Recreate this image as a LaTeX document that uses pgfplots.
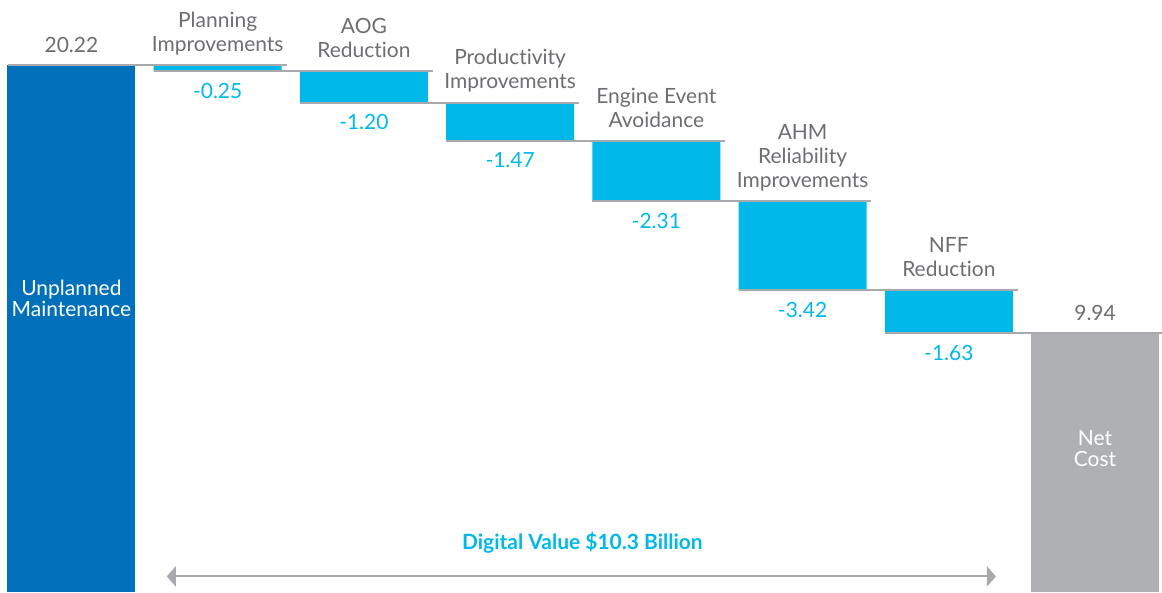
\documentclass[border=0pt]{standalone}
\usepackage{fontspec}
\setmainfont{Lato}[Ligatures=NoCommon]
\usepackage{pgfplots}
\pgfplotsset{compat=1.18}
\usetikzlibrary{arrows.meta}
\definecolor{cblue}{HTML}{0070BA}
\definecolor{ccyan}{HTML}{00B9E8}
\definecolor{cgray}{HTML}{AEB0B3}
\definecolor{tgray}{HTML}{6D6E71}
\definecolor{lgray}{HTML}{A7A9AC}
\begin{document}
\begin{tikzpicture}
\pgfplotsset{
  wf/.style={x=73.2pt, y=13.05pt, xmin=-0.4884, xmax=7.4577, ymin=0, ymax=22.71,
    hide axis, clip=false},
}
\tikzset{
  cat/.style={font=\fontsize{10.5}{12}\selectfont, text=tgray, align=center,
    anchor=south, inner sep=0pt, text depth=0pt, yshift=6.75pt},
  val/.style={font=\fontsize{10.5}{12}\selectfont, text=ccyan, anchor=north,
    inner sep=0pt, yshift=-5.75pt},
  tot/.style={font=\fontsize{10.5}{12}\selectfont, text=tgray, anchor=base,
    inner sep=0pt, yshift=6.25pt},
  inbar/.style={font=\fontsize{10.5}{10.5}\selectfont, text=white, align=center},
}
% bars
\begin{axis}[wf, ybar stacked, bar width=64pt]
\addplot[fill=none, draw=none] coordinates {(0,0) (1,19.97) (2,18.77) (3,17.30) (4,14.99) (5,11.57) (6,9.94) (7,0)};
\addplot[fill=cblue, draw=none] coordinates {(0,20.22) (1,0) (2,0) (3,0) (4,0) (5,0) (6,0) (7,0)};
\addplot[fill=ccyan, draw=none] coordinates {(0,0) (1,0.25) (2,1.20) (3,1.47) (4,2.31) (5,3.42) (6,1.63) (7,0)};
\addplot[fill=cgray, draw=none] coordinates {(0,0) (1,0) (2,0) (3,0) (4,0) (5,0) (6,0) (7,9.94)};
\coordinate (bl) at (rel axis cs:0,0);
\coordinate (tr) at (rel axis cs:1,1);
\end{axis}
% connectors, arrow and labels
\begin{axis}[wf]
\addplot[lgray, line width=1pt, mark=none, unbounded coords=jump] coordinates {
  (-0.437,20.22) (1.471,20.22) (1,nan)
  (0.563,19.97) (2.471,19.97) (2,nan)
  (1.563,18.77) (3.471,18.77) (3,nan)
  (2.563,17.30) (4.471,17.30) (4,nan)
  (3.563,14.99) (5.471,14.99) (5,nan)
  (4.563,11.57) (6.471,11.57) (6,nan)
  (5.563,9.94) (7.458,9.94)
};
\addplot[lgray, line width=1pt, mark=none,
  {Triangle[length=4.5pt,width=10pt]}-{Triangle[length=4.5pt,width=10pt]}]
  coordinates {(0.652,0.60) (6.322,0.60)};

\node[tot] at (axis cs:0,20.22) {20.22};
\node[tot] at (axis cs:7,9.94) {9.94};

\node[cat] at (axis cs:1,20.22) {Planning\\Improvements};
\node[cat] at (axis cs:2,19.97) {AOG\\Reduction};
\node[cat] at (axis cs:3,18.77) {Productivity\\Improvements};
\node[cat] at (axis cs:4,17.30) {Engine Event\\Avoidance};
\node[cat] at (axis cs:5,14.99) {AHM\\Reliability\\Improvements};
\node[cat] at (axis cs:6,11.57) {NFF\\Reduction};

\node[val] at (axis cs:1,19.97) {-0.25};
\node[val] at (axis cs:2,18.77) {-1.20};
\node[val] at (axis cs:3,17.30) {-1.47};
\node[val] at (axis cs:4,14.99) {-2.31};
\node[val] at (axis cs:5,11.57) {-3.42};
\node[val] at (axis cs:6,9.94) {-1.63};

\node[inbar] at (axis cs:0,11.27) {Unplanned\\Maintenance};
\node[inbar] at (axis cs:7,5.49) {Net\\Cost};

\node[font=\fontsize{10.5}{12}\selectfont\bfseries, text=ccyan] at (axis cs:3.494,1.91) {Digital Value \$10.3 Billion};
\end{axis}
\pgfresetboundingbox
\useasboundingbox (bl) rectangle (tr);
\end{tikzpicture}
\end{document}
